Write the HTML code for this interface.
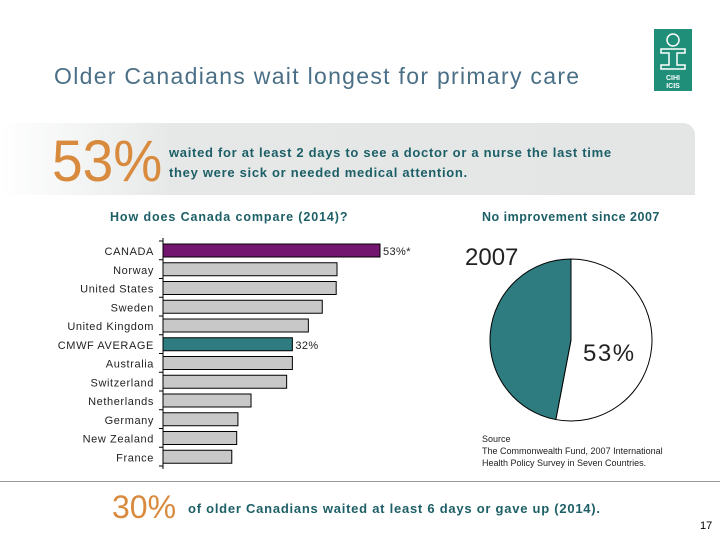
<!DOCTYPE html>
<html><head><meta charset="utf-8"><style>
body{margin:0;width:720px;height:540px;background:#fff;position:relative;overflow:hidden;font-family:"Liberation Sans",sans-serif}
.a{position:absolute;white-space:nowrap}
</style></head><body>
<div class="a" style="left:54px;top:63px;font-size:23px;letter-spacing:1.3px;color:#4a6f86">Older Canadians wait longest for primary care</div>
<div class="a" style="left:654px;top:29px;width:38px;height:62px;background:#1f8f7a">
<svg width="38" height="62" viewBox="0 0 38 62"><circle cx="19" cy="11" r="6" fill="none" stroke="#fff" stroke-width="1.5"/><path d="M7 20h24v4h-8v12h8v4H7v-4h8V24H7z" fill="none" stroke="#fff" stroke-width="1.5"/><text x="19" y="51" font-size="7" fill="#fff" text-anchor="middle" font-weight="bold" font-family="Liberation Sans">CIHI</text><text x="19" y="59" font-size="7" fill="#fff" text-anchor="middle" font-weight="bold" font-family="Liberation Sans">ICIS</text></svg></div>
<div class="a" style="left:0;top:123px;width:695px;height:72px;border-radius:0 12px 0 0;background:linear-gradient(90deg,#fff 0%,#e6e8e8 25%,#e4e6e6 100%)"></div>
<div class="a" style="left:52px;top:128px;font-size:58px;color:#d88a3e;transform-origin:0 0;transform:scaleX(0.95)">53%</div>
<div class="a" style="left:169px;top:143px;font-size:13px;font-weight:bold;letter-spacing:0.7px;color:#1c5f66;line-height:20px">waited for at least 2 days to see a doctor or a nurse the last time<br>they were sick or needed medical attention.</div>
<div class="a" style="left:110px;top:210px;font-size:12.5px;font-weight:bold;letter-spacing:0.9px;color:#1c5f66">How does Canada compare (2014)?</div>
<div class="a" style="left:482px;top:210px;font-size:12.5px;font-weight:bold;letter-spacing:0.5px;color:#1c5f66">No improvement since 2007</div>
<svg class="a" id="bar" style="left:0;top:230px" width="440" height="245"></svg>
<svg class="a" id="pie" style="left:460px;top:240px" width="220" height="195"></svg>
<div class="a" style="left:482px;top:433px;font-size:9px;color:#222;line-height:12px">Source<br>The Commonwealth Fund, 2007 International<br>Health Policy Survey in Seven Countries.</div>
<div class="a" style="left:0;top:481px;width:720px;height:1px;background:#999"></div>
<div class="a" style="left:112px;top:489px;font-size:32px;color:#d88a3e">30%</div>
<div class="a" style="left:188px;top:501px;font-size:13px;font-weight:bold;letter-spacing:0.75px;color:#1c5f66">of older Canadians waited at least 6 days or gave up (2014).</div>
<div class="a" style="left:700px;top:520px;font-size:11px;color:#000">17</div>
<script>
const categories=["CANADA","Norway","United States","Sweden","United Kingdom","CMWF AVERAGE","Australia","Switzerland","Netherlands","Germany","New Zealand","France"];
const values=[53,42.5,42.3,38.9,35.5,31.6,31.6,30.2,21.5,18.3,18,16.8];
const labels=["53%*","","","","","32%","","","","","",""];
const colors=["#73166f","#c8c8c8","#c8c8c8","#c8c8c8","#c8c8c8","#2e7b80","#c8c8c8","#c8c8c8","#c8c8c8","#c8c8c8","#c8c8c8","#c8c8c8"];
const pieValues=[53,47];
const pieLabels=["53%"];
const NS="http://www.w3.org/2000/svg";
const svg=document.getElementById('bar');
const x0=163,k=217/53,rowH=18.75,top0=14,bh=13;
const xs=v=>x0+v*k, ys=i=>top0+i*rowH;
function mk(t,a){const e=document.createElementNS(NS,t);for(const n in a)e.setAttribute(n,a[n]);return e;}
const ax=mk('line',{x1:x0,y1:8,x2:x0,y2:top0+12*rowH,stroke:'#000'});


svg.appendChild(ax);
categories.forEach((c,i)=>{
 const y=ys(i);
 const tk=mk('line',{x1:x0-4,x2:x0,y1:y-3,y2:y-3,stroke:'#000'});svg.appendChild(tk);
 const r=mk('rect',{x:x0,y:y,width:xs(values[i])-x0,height:bh,fill:colors[i],stroke:'#000','stroke-width':1});
 
 
 svg.appendChild(r);
 const t=mk('text',{x:x0-9,y:y+11,'text-anchor':'end','font-size':11,'letter-spacing':0.6,fill:'#222','font-family':'Liberation Sans'});
 t.textContent=c;
 
 
 svg.appendChild(t);
 if(labels[i]){const l=mk('text',{x:xs(values[i])+3,y:y+11,'font-size':11,'letter-spacing':0.4,fill:'#222','font-family':'Liberation Sans'});l.textContent=labels[i];
 
 
 svg.appendChild(l);}
});
const last=mk('line',{x1:x0-4,x2:x0,y1:ys(12)-3,y2:ys(12)-3,stroke:'#000'});svg.appendChild(last);
const p=document.getElementById('pie');
const cx=111,cy=100,R=81;
const tot=pieValues.reduce((a,b)=>a+b,0);
const pc=["#ffffff","#2e7b80"];
let a0=-Math.PI/2;
pieValues.forEach((v,i)=>{
 const a1=a0+v/tot*2*Math.PI;
 const lg=(a1-a0)>Math.PI?1:0;
 const d=`M${cx},${cy}L${cx+R*Math.cos(a0)},${cy+R*Math.sin(a0)}A${R},${R} 0 ${lg} 1 ${cx+R*Math.cos(a1)},${cy+R*Math.sin(a1)}Z`;
 const s=mk('path',{d:d,fill:pc[i],stroke:'#000','stroke-width':1});
 
 
 p.appendChild(s);
 a0=a1;
});
const yr=mk('text',{x:5,y:25,'font-size':24,fill:'#222','font-family':'Liberation Sans'});yr.textContent='2007';


p.appendChild(yr);
const pl=mk('text',{x:123,y:121,'font-size':24,'letter-spacing':1.5,fill:'#222','font-family':'Liberation Sans'});pl.textContent=pieLabels[0];


p.appendChild(pl);
</script>
</body></html>
